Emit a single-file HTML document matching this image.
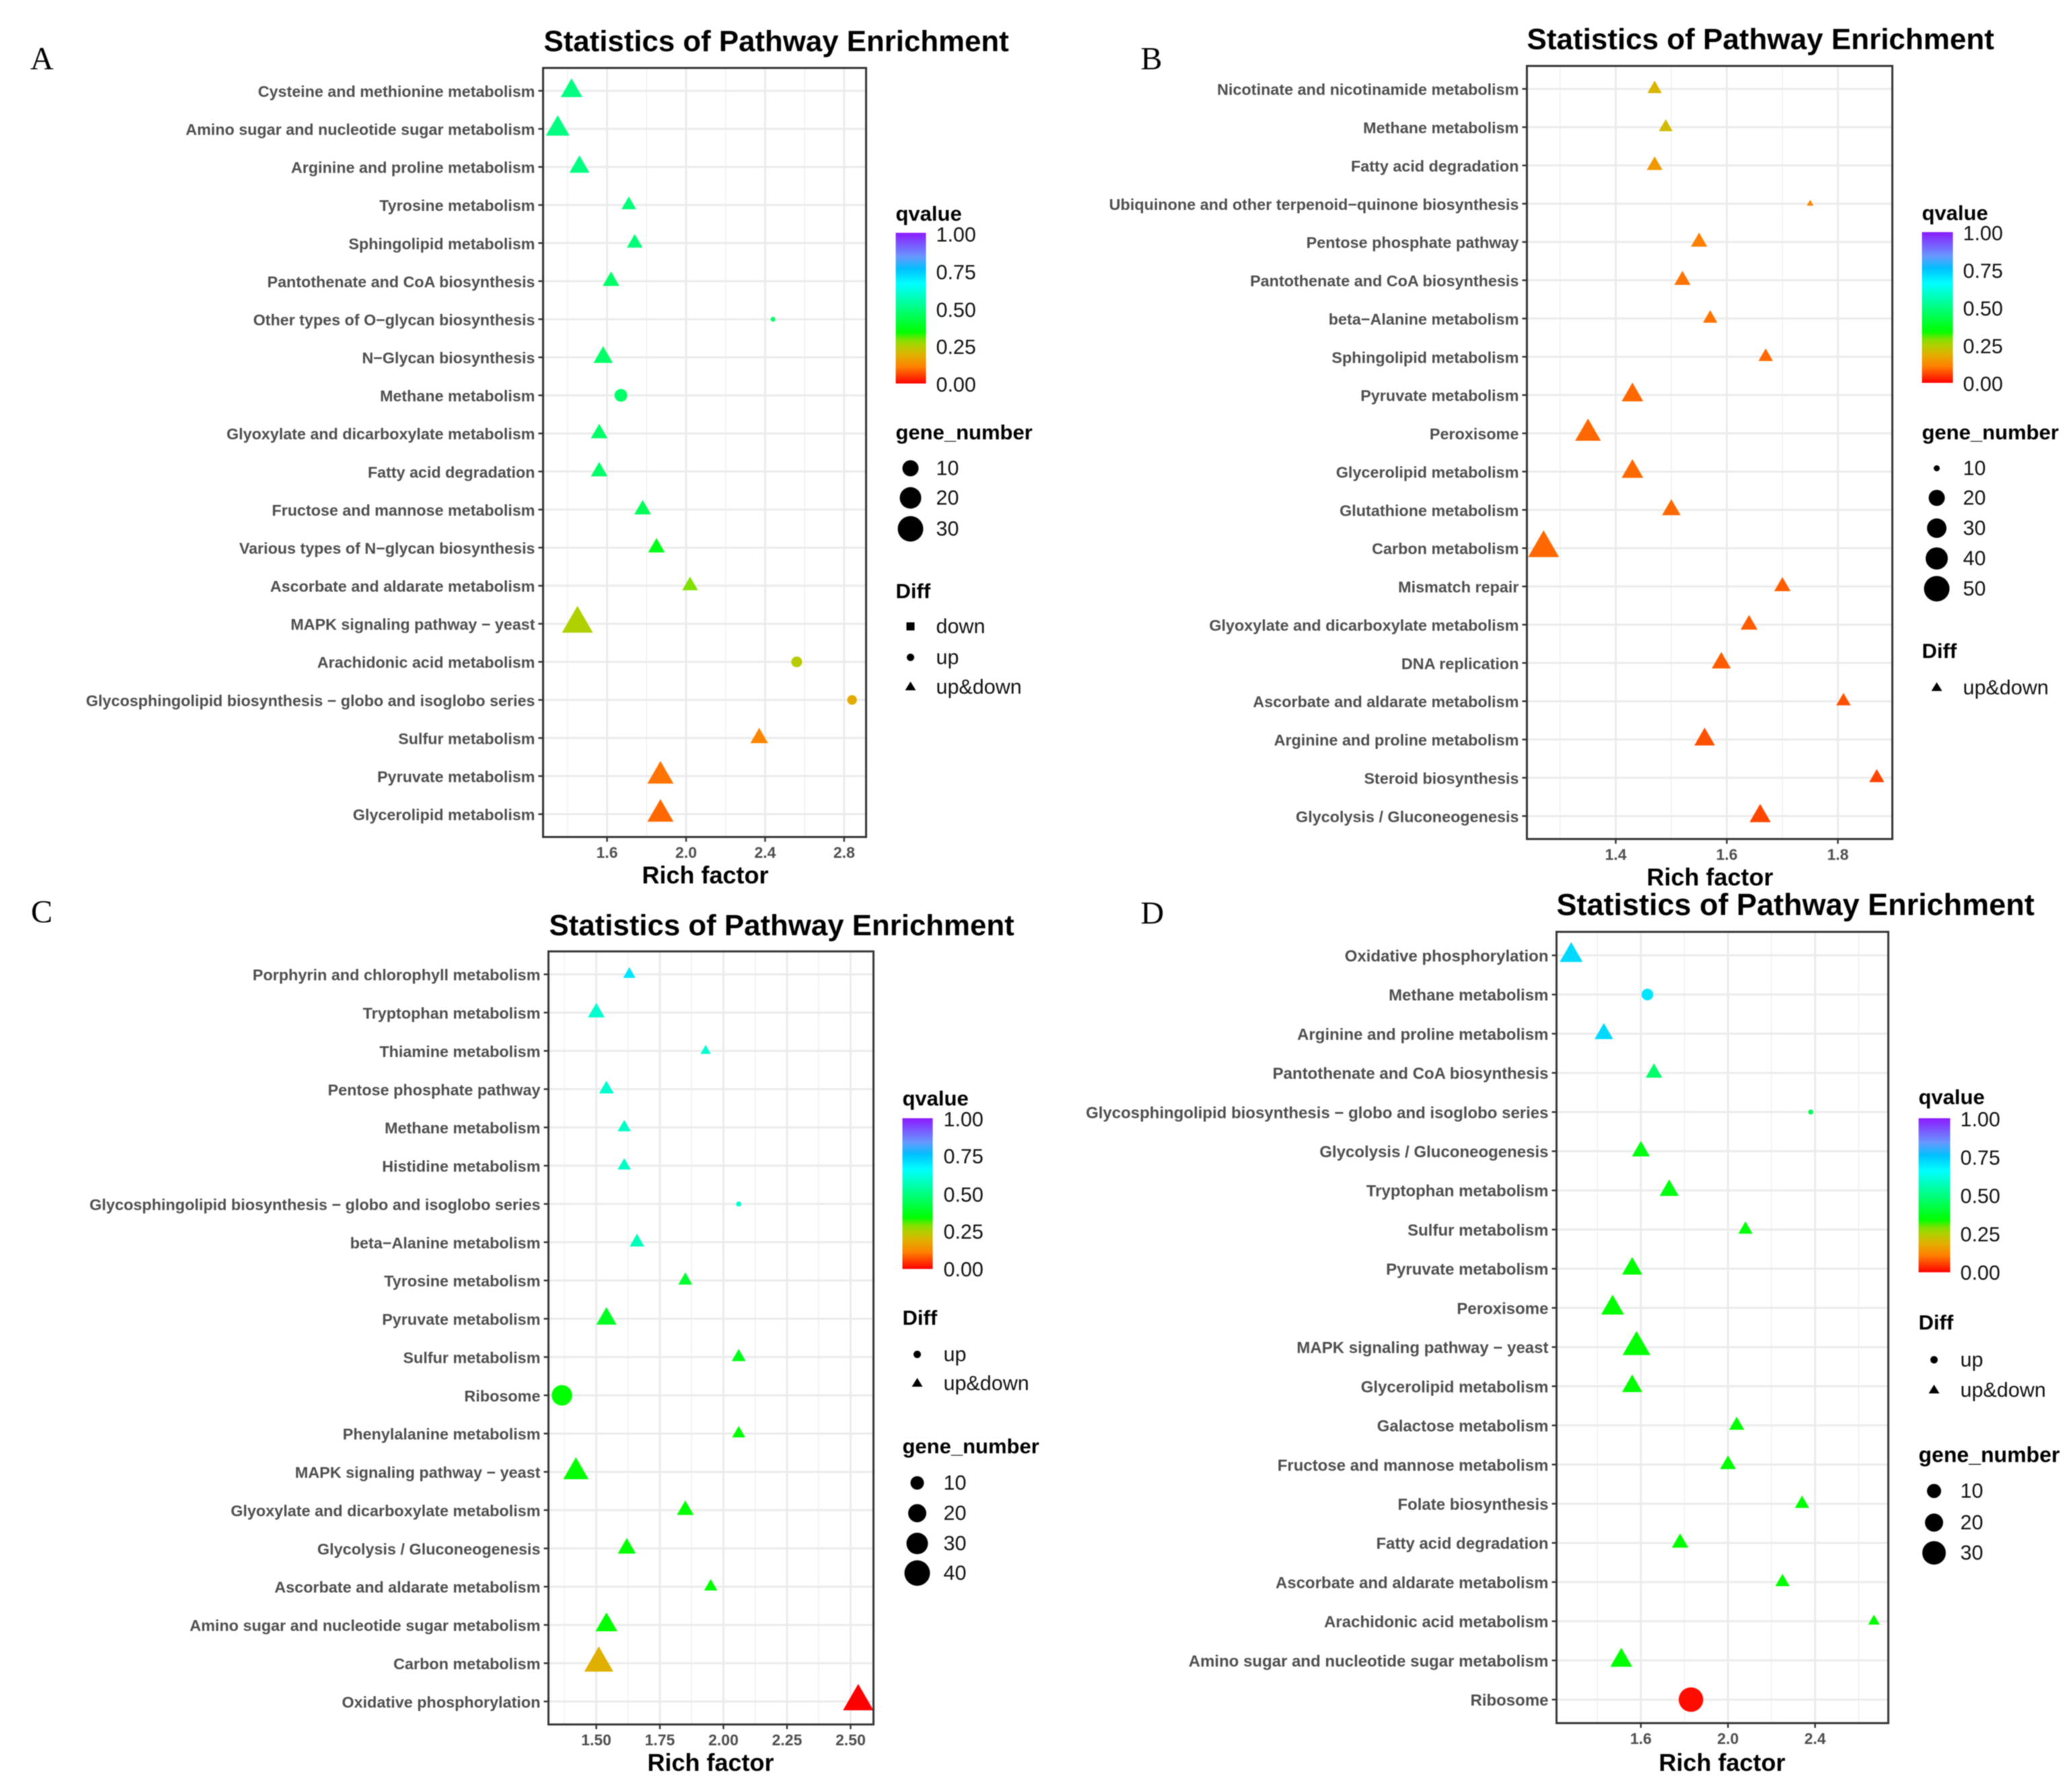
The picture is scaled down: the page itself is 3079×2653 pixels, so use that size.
<!DOCTYPE html>
<html>
<head>
<meta charset="utf-8">
<title>Statistics of Pathway Enrichment</title>
<style>
html,body{margin:0;padding:0;background:#fff;width:3079px;height:2653px;overflow:hidden}
svg{display:block;filter:blur(0.7px)}
text{font-family:"Liberation Sans",sans-serif}
.title{font-size:43.8px;font-weight:bold;fill:#000}
.letter{font-family:"Liberation Serif",serif;font-size:48px;fill:#000}
.xtitle{font-size:36px;font-weight:bold;fill:#000;text-anchor:middle}
.ltitle{font-size:31px;font-weight:bold;fill:#000}
.ltext{font-size:30.5px;fill:#111;dominant-baseline:central}
</style>
</head>
<body>
<svg id="chart" xmlns="http://www.w3.org/2000/svg" width="3079" height="2653" viewBox="0 0 3079 2653">
<defs>
<linearGradient id="q-gradient" x1="0" y1="1" x2="0" y2="0"></linearGradient>
</defs>
<rect width="3079" height="2653" fill="#ffffff"/>

<g id="panel-a">
<text class="letter" x="45" y="103">A</text>
<text class="title" x="808" y="76">Statistics of Pathway Enrichment</text>
<text class="xtitle" x="1048" y="1313">Rich factor</text>
<g>
<text class="ltitle" x="1331" y="328">qvalue</text>
<rect x="1331" y="346" width="45" height="224" fill="url(#q-gradient)"/>
<text class="ltext" x="1391" y="349">1.00</text><text class="ltext" x="1391" y="405">0.75</text><text class="ltext" x="1391" y="461">0.50</text><text class="ltext" x="1391" y="516">0.25</text><text class="ltext" x="1391" y="572">0.00</text>
</g>
<g>
<text class="ltitle" x="1331" y="653">gene_number</text>
<circle cx="1353" cy="696" r="12"/><text class="ltext" x="1391" y="696">10</text>
<circle cx="1353" cy="740" r="16"/><text class="ltext" x="1391" y="740">20</text>
<circle cx="1353" cy="786" r="19"/><text class="ltext" x="1391" y="786">30</text>
</g>
<g>
<text class="ltitle" x="1331" y="889">Diff</text>
<rect x="1347" y="925" width="12" height="12"/><text class="ltext" x="1391" y="931">down</text>
<circle cx="1353" cy="977" r="5.5"/><text class="ltext" x="1391" y="977">up</text>
<polygon points="1353,1013 1345,1026 1361,1026"/><text class="ltext" x="1391" y="1021">up&amp;down</text>
</g>
</g>

<g id="panel-b">
<text class="letter" x="1695" y="103">B</text>
<text class="title" x="2269" y="73" style="font-size:44px">Statistics of Pathway Enrichment</text>
<text class="xtitle" x="2541" y="1316">Rich factor</text>
<g>
<text class="ltitle" x="2856" y="327">qvalue</text>
<rect x="2856" y="345" width="46" height="224" fill="url(#q-gradient)"/>
<text class="ltext" x="2917" y="347">1.00</text><text class="ltext" x="2917" y="403">0.75</text><text class="ltext" x="2917" y="459">0.50</text><text class="ltext" x="2917" y="515">0.25</text><text class="ltext" x="2917" y="571">0.00</text>
</g>
<g>
<text class="ltitle" x="2856" y="653">gene_number</text>
<circle cx="2878" cy="696" r="4.5"/><text class="ltext" x="2917" y="696">10</text>
<circle cx="2878" cy="740" r="12"/><text class="ltext" x="2917" y="740">20</text>
<circle cx="2878" cy="785" r="14.5"/><text class="ltext" x="2917" y="785">30</text>
<circle cx="2878" cy="830" r="16.5"/><text class="ltext" x="2917" y="830">40</text>
<circle cx="2878" cy="875" r="19"/><text class="ltext" x="2917" y="875">50</text>
</g>
<g>
<text class="ltitle" x="2856" y="978">Diff</text>
<polygon points="2878,1014 2870,1027 2886,1027"/><text class="ltext" x="2917" y="1022">up&amp;down</text>
</g>
</g>

<g id="panel-c">
<text class="letter" x="46" y="1371">C</text>
<text class="title" x="816" y="1390">Statistics of Pathway Enrichment</text>
<text class="xtitle" x="1056" y="2632">Rich factor</text>
<g>
<text class="ltitle" x="1341" y="1643">qvalue</text>
<rect x="1341" y="1662" width="45" height="224" fill="url(#q-gradient)"/>
<text class="ltext" x="1402" y="1664">1.00</text><text class="ltext" x="1402" y="1719">0.75</text><text class="ltext" x="1402" y="1776">0.50</text><text class="ltext" x="1402" y="1831">0.25</text><text class="ltext" x="1402" y="1887">0.00</text>
</g>
<g>
<text class="ltitle" x="1341" y="1969">Diff</text>
<circle cx="1363" cy="2013" r="5.5"/><text class="ltext" x="1402" y="2013">up</text>
<polygon points="1363,2048 1355,2061 1371,2061"/><text class="ltext" x="1402" y="2056">up&amp;down</text>
</g>
<g>
<text class="ltitle" x="1341" y="2160">gene_number</text>
<circle cx="1363" cy="2204" r="10"/><text class="ltext" x="1402" y="2204">10</text>
<circle cx="1363" cy="2249" r="13.5"/><text class="ltext" x="1402" y="2249">20</text>
<circle cx="1363" cy="2294" r="16"/><text class="ltext" x="1402" y="2294">30</text>
<circle cx="1363" cy="2338" r="19"/><text class="ltext" x="1402" y="2338">40</text>
</g>
</g>

<g id="panel-d">
<text class="letter" x="1695" y="1373">D</text>
<text class="title" x="2313" y="1360" style="font-size:45px">Statistics of Pathway Enrichment</text>
<text class="xtitle" x="2559" y="2632">Rich factor</text>
<g>
<text class="ltitle" x="2851" y="1641">qvalue</text>
<rect x="2851" y="1662" width="47" height="229" fill="url(#q-gradient)"/>
<text class="ltext" x="2913" y="1664">1.00</text><text class="ltext" x="2913" y="1721">0.75</text><text class="ltext" x="2913" y="1778">0.50</text><text class="ltext" x="2913" y="1835">0.25</text><text class="ltext" x="2913" y="1892">0.00</text>
</g>
<g>
<text class="ltitle" x="2851" y="1976">Diff</text>
<circle cx="2874" cy="2021" r="5.5"/><text class="ltext" x="2913" y="2021">up</text>
<polygon points="2874,2058 2866,2071 2882,2071"/><text class="ltext" x="2913" y="2066">up&amp;down</text>
</g>
<g>
<text class="ltitle" x="2851" y="2173" style="font-size:32px">gene_number</text>
<circle cx="2874" cy="2216" r="10.5"/><text class="ltext" x="2913" y="2216">10</text>
<circle cx="2874" cy="2263" r="13.5"/><text class="ltext" x="2913" y="2263">20</text>
<circle cx="2874" cy="2308" r="17.5"/><text class="ltext" x="2913" y="2308">30</text>
</g>
</g>
</svg>

<script>
// ---------- Panel A data ----------
const categoriesA = ["Cysteine and methionine metabolism","Amino sugar and nucleotide sugar metabolism","Arginine and proline metabolism","Tyrosine metabolism","Sphingolipid metabolism","Pantothenate and CoA biosynthesis","Other types of O\u2212glycan biosynthesis","N\u2212Glycan biosynthesis","Methane metabolism","Glyoxylate and dicarboxylate metabolism","Fatty acid degradation","Fructose and mannose metabolism","Various types of N\u2212glycan biosynthesis","Ascorbate and aldarate metabolism","MAPK signaling pathway \u2212 yeast","Arachidonic acid metabolism","Glycosphingolipid biosynthesis \u2212 globo and isoglobo series","Sulfur metabolism","Pyruvate metabolism","Glycerolipid metabolism"];
const richA = [1.42,1.35,1.46,1.71,1.74,1.62,2.44,1.58,1.67,1.56,1.56,1.78,1.85,2.02,1.45,2.56,2.84,2.37,1.87,1.87];
const qvalueA = [0.5,0.5,0.5,0.49,0.49,0.47,0.47,0.47,0.47,0.47,0.47,0.45,0.37,0.29,0.25,0.24,0.18,0.12,0.1,0.09];
const genesA = [15,18,13,7,8,9,1,12,7,9,9,9,9,8,31,5,4,10,22,22];
const diffA = ["t","t","t","t","t","t","c","t","c","t","t","t","t","t","t","c","c","t","t","t"];
const ticksA = ["1.6","2.0","2.4","2.8"];

// ---------- Panel B data ----------
const categoriesB = ["Nicotinate and nicotinamide metabolism","Methane metabolism","Fatty acid degradation","Ubiquinone and other terpenoid\u2212quinone biosynthesis","Pentose phosphate pathway","Pantothenate and CoA biosynthesis","beta\u2212Alanine metabolism","Sphingolipid metabolism","Pyruvate metabolism","Peroxisome","Glycerolipid metabolism","Glutathione metabolism","Carbon metabolism","Mismatch repair","Glyoxylate and dicarboxylate metabolism","DNA replication","Ascorbate and aldarate metabolism","Arginine and proline metabolism","Steroid biosynthesis","Glycolysis / Gluconeogenesis"];
const richB = [1.47,1.49,1.47,1.75,1.55,1.52,1.57,1.67,1.43,1.35,1.43,1.5,1.27,1.7,1.64,1.59,1.81,1.56,1.87,1.66];
const qvalueB = [0.2,0.21,0.15,0.12,0.11,0.1,0.1,0.09,0.09,0.09,0.09,0.09,0.09,0.08,0.08,0.08,0.07,0.07,0.06,0.06];
const genesB = [18,17,20,8,21,21,18,18,31,40,31,25,53,21,22,26,18,29,19,30];
const diffB = ["t","t","t","t","t","t","t","t","t","t","t","t","t","t","t","t","t","t","t","t"];
const ticksB = ["1.4","1.6","1.8"];

// ---------- Panel C data ----------
const categoriesC = ["Porphyrin and chlorophyll metabolism","Tryptophan metabolism","Thiamine metabolism","Pentose phosphate pathway","Methane metabolism","Histidine metabolism","Glycosphingolipid biosynthesis \u2212 globo and isoglobo series","beta\u2212Alanine metabolism","Tyrosine metabolism","Pyruvate metabolism","Sulfur metabolism","Ribosome","Phenylalanine metabolism","MAPK signaling pathway \u2212 yeast","Glyoxylate and dicarboxylate metabolism","Glycolysis / Gluconeogenesis","Ascorbate and aldarate metabolism","Amino sugar and nucleotide sugar metabolism","Carbon metabolism","Oxidative phosphorylation"];
const richC = [1.63,1.5,1.93,1.54,1.61,1.61,2.06,1.66,1.85,1.54,2.06,1.365,2.06,1.42,1.85,1.62,1.95,1.54,1.51,2.53];
const qvalueC = [0.7,0.6,0.6,0.6,0.59,0.59,0.6,0.57,0.4,0.38,0.37,0.34,0.34,0.34,0.34,0.34,0.34,0.34,0.19,0];
const genesC = [6,12,4,9,7,7,1,9,8,18,8,25,7,29,12,14,7,21,39,43];
const diffC = ["t","t","t","t","t","t","c","t","t","t","t","c","t","t","t","t","t","t","t","t"];
const ticksC = ["1.50","1.75","2.00","2.25","2.50"];

// ---------- Panel D data ----------
const categoriesD = ["Oxidative phosphorylation","Methane metabolism","Arginine and proline metabolism","Pantothenate and CoA biosynthesis","Glycosphingolipid biosynthesis \u2212 globo and isoglobo series","Glycolysis / Gluconeogenesis","Tryptophan metabolism","Sulfur metabolism","Pyruvate metabolism","Peroxisome","MAPK signaling pathway \u2212 yeast","Glycerolipid metabolism","Galactose metabolism","Fructose and mannose metabolism","Folate biosynthesis","Fatty acid degradation","Ascorbate and aldarate metabolism","Arachidonic acid metabolism","Amino sugar and nucleotide sugar metabolism","Ribosome"];
const richD = [1.28,1.63,1.43,1.66,2.38,1.6,1.73,2.08,1.56,1.47,1.58,1.56,2.04,2.0,2.34,1.78,2.25,2.67,1.51,1.83];
const qvalueD = [0.72,0.7,0.72,0.47,0.45,0.36,0.36,0.35,0.34,0.34,0.34,0.34,0.34,0.34,0.34,0.34,0.34,0.34,0.34,0.01];
const genesD = [22,7,14,11,1,13,15,8,17,22,33,17,9,10,8,11,8,5,20,34];
const diffD = ["t","c","t","t","c","t","t","t","t","t","t","t","t","t","t","t","t","t","t","c"];
const ticksD = ["1.6","2.0","2.4"];

// ---------- Colour ramp ----------
const rampBreaks = [0,0.11,0.19,0.25,0.29,0.34,0.5,0.66,0.76,0.84,1];
const rampColors = ["#ff0000","#ff7f00","#e0b000","#b0d000","#80e000","#00ff00","#00ff80","#00ffff","#00bfff","#6699ff","#8c1aff"];

const NS = "http://www.w3.org/2000/svg";
function hex(c){return [1,3,5].map(i=>parseInt(c.substr(i,2),16));}
function qColor(q){
  let i=0;
  while(i<rampBreaks.length-2 && q>rampBreaks[i+1]) i++;
  const t=Math.max(0,Math.min(1,(q-rampBreaks[i])/(rampBreaks[i+1]-rampBreaks[i])));
  const a=hex(rampColors[i]),b=hex(rampColors[i+1]);
  return "rgb("+a.map((v,k)=>Math.round(v+(b[k]-v)*t)).join(",")+")";
}
const grad=document.getElementById("q-gradient");
rampBreaks.forEach((b,i)=>{
  const s=document.createElementNS(NS,"stop");
  s.setAttribute("offset",b);
  s.setAttribute("stop-color",rampColors[i]);
  grad.appendChild(s);
});

function mk(parent,tag,attrs){
  const n=document.createElementNS(NS,tag);
  for(const k in attrs) n.setAttribute(k,attrs[k]);
  parent.appendChild(n);
  return n;
}

function drawPanel(cfg){
  const root=document.getElementById(cfg.id);
  const plot=mk(root,"g",{});
  
  
  const L=cfg.left,R=cfg.right,T=cfg.top,B=cfg.bottom;
  const xScale=v=>L+(v-cfg.domain[0])/(cfg.domain[1]-cfg.domain[0])*(R-L);
  const n=cfg.categories.length;
  const step=(B-T)/(n-1+1.2);
  const yScale=i=>T+(i+0.6)*step;
  const sizeScale=g=>cfg.sizeA+cfg.sizeB*Math.sqrt(g);

  const clipId="clip-"+cfg.id;
  const defs=mk(plot,"defs",{});
  const cp=mk(defs,"clipPath",{id:clipId});
  mk(cp,"rect",{x:L,y:T,width:R-L,height:B-T});

  const tickVals=cfg.ticks.map(Number);
  const gap=tickVals[1]-tickVals[0];
  // minor grid
  for(let v=tickVals[0]-gap/2;v<cfg.domain[1];v+=gap){
    if(v<=cfg.domain[0]) continue;
    const m=mk(plot,"line",{x1:xScale(v),x2:xScale(v),y1:T,y2:B,stroke:"#f0f0f0","stroke-width":1.5});
    
    
  }
  // major grid + ticks
  cfg.ticks.forEach((label,i)=>{
    const x=xScale(tickVals[i]);
    const g=mk(plot,"line",{x1:x,x2:x,y1:T,y2:B,stroke:"#ebebeb","stroke-width":3});
    
    
    const t=mk(plot,"line",{x1:x,x2:x,y1:B,y2:B+7,stroke:"#333","stroke-width":2.5});
    
    
    const lb=mk(plot,"text",{x:x,y:B+31,"text-anchor":"middle","font-size":23,"font-weight":"bold",fill:"#4d4d4d"});
    lb.textContent=label;
    
    
  });
  // rows
  cfg.categories.forEach((c,i)=>{
    const y=yScale(i);
    const g=mk(plot,"line",{x1:L,x2:R,y1:y,y2:y,stroke:"#ebebeb","stroke-width":3});
    
    
    const t=mk(plot,"line",{x1:L-7,x2:L,y1:y,y2:y,stroke:"#333","stroke-width":2.5});
    
    
    const lb=mk(plot,"text",{x:L-12,y:y+9,"text-anchor":"end","font-size":cfg.labelSize,"font-weight":"bold",fill:"#4d4d4d"});
    lb.textContent=c;
    
    
  });
  // points
  const marks=mk(plot,"g",{"clip-path":"url(#"+clipId+")"});
  
  
  cfg.rich.forEach((v,i)=>{
    const x=xScale(v),y=yScale(i),d=sizeScale(cfg.genes[i]),col=qColor(cfg.q[i]);
    let m;
    if(cfg.diff[i]==="c"){
      m=mk(marks,"circle",{cx:x,cy:y,r:d/2,fill:col});
    }else{
      const w=d*1.15,h=w*0.866;
      m=mk(marks,"polygon",{points:[x,y-2*h/3,x-w/2,y+h/3,x+w/2,y+h/3].join(" "),fill:col});
    }
    
    
  });
  // frame
  const f=mk(plot,"rect",{x:L,y:T,width:R-L,height:B-T,fill:"none",stroke:"#333","stroke-width":3});
  
  
}

drawPanel({id:"panel-a",left:807,right:1287,top:101,bottom:1244,domain:[1.276,2.911],categories:categoriesA,rich:richA,q:qvalueA,genes:genesA,diff:diffA,ticks:ticksA,sizeA:0,sizeB:7.2,labelSize:23.3});
drawPanel({id:"panel-b",left:2269,right:2812,top:98,bottom:1247,domain:[1.24,1.898],categories:categoriesB,rich:richB,q:qvalueB,genes:genesB,diff:diffB,ticks:ticksB,sizeA:-11,sizeB:7,labelSize:23.4});
drawPanel({id:"panel-c",left:815,right:1298,top:1414,bottom:2563,domain:[1.312,2.59],categories:categoriesC,rich:richC,q:qvalueC,genes:genesC,diff:diffC,ticks:ticksC,sizeA:2,sizeB:5.7,labelSize:23.4});
drawPanel({id:"panel-d",left:2313,right:2806,top:1385,bottom:2561,domain:[1.2127,2.736],categories:categoriesD,rich:richD,q:qvalueD,genes:genesD,diff:diffD,ticks:ticksD,sizeA:1.5,sizeB:6,labelSize:24});
</script>
</body>
</html>
